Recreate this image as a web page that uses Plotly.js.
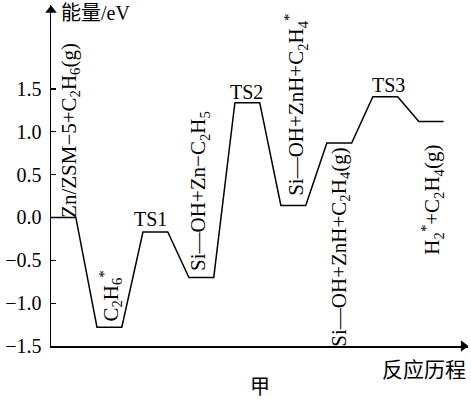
<!DOCTYPE html>
<html><head><meta charset="utf-8">
<script src="https://cdn.plot.ly/plotly-3.0.1.min.js"></script>
<style>html,body{margin:0;padding:0;background:#fff}#c{width:471px;height:401px}</style>
</head><body><div id="c"></div>
<script>
const energies = [0, -1.28, -0.17, -0.70, 1.34, 0.14, 0.87, 1.41, 1.12];
const stateLabels = [
  "Zn/ZSM−5+C<sub>2</sub>H<sub>6</sub>(g)",
  "C<sub>2</sub>H<sub>6</sub><sup>*</sup>",
  "TS1",
  "Si—OH+Zn−C<sub>2</sub>H<sub>5</sub>",
  "TS2",
  "Si—OH+ZnH+C<sub>2</sub>H<sub>4</sub><sup>*</sup>",
  "Si—OH+ZnH+C<sub>2</sub>H<sub>4</sub>(g)",
  "TS3",
  "H<sub>2</sub><sup>*</sup>+C<sub>2</sub>H<sub>4</sub>(g)"
];
const yTicks = [-1.5, -1.0, -0.5, 0.0, 0.5, 1.0, 1.5];
const yTickText = ["−1.5", "−1.0", "−0.5", "0.0", "0.5", "1.0", "1.5"];
const yTitle = "能量/eV";
const xTitle = "反应历程";
const caption = "甲";

// layout constants (not data)
const X_MAX = 9.07, Y_MIN = -1.5, Y_MAX = 2.48, LEVEL_W = 0.54;
// label centres in axis units and rotation
const labelPos = [
  [0.41, 1.02, -90], [1.29, -0.92, -90], [2.17, -0.02, 0],
  [3.22, 0.31, -90], [4.26, 1.47, 0], [5.32, 1.31, -90],
  [6.29, -0.35, -90], [7.33, 1.55, 0], [8.29, 0.21, -90]
];

const xs = [], ys = [];
energies.forEach((e, i) => { xs.push(i, i + LEVEL_W); ys.push(e, e); });

const serif = "Liberation Serif, Times New Roman, Times, serif";
const cjk = "Noto Sans CJK SC";
const anns = stateLabels.map((t, i) => ({
  x: labelPos[i][0], y: labelPos[i][1], xref: 'x', yref: 'y',
  text: t, showarrow: false, textangle: labelPos[i][2],
  xanchor: 'center', yanchor: 'middle',
  font: {family: serif, size: labelPos[i][2] === 0 ? 20 : 21, color: '#000'}
}));
anns.push({xref: 'paper', yref: 'paper', x: 0.02, y: 0.978, xanchor: 'left', yanchor: 'middle',
  text: yTitle, showarrow: false, font: {family: serif + ", " + cjk, size: 20, color: '#000'}});
anns.push({xref: 'paper', yref: 'paper', x: 1.0, y: -0.065, xanchor: 'right', yanchor: 'middle',
  text: xTitle, showarrow: false, font: {family: cjk, size: 21, color: '#000'}});
anns.push({xref: 'paper', yref: 'paper', x: 0.50, y: -0.117, xanchor: 'center', yanchor: 'middle',
  text: caption, showarrow: false, font: {family: cjk, size: 20, color: '#000'}});

const data = [
  {x: xs, y: ys, mode: 'lines', line: {color: '#000', width: 1.5}, hoverinfo: 'skip'},
  {x: [X_MAX - 0.1, 0], y: [Y_MIN, Y_MAX - 0.06], mode: 'markers', cliponaxis: false,
   marker: {symbol: ['triangle-right', 'triangle-up'], size: 10, color: '#000', line: {width: 0}}, hoverinfo: 'skip'}
];
const layout = {
  width: 471, height: 401,
  margin: {l: 51, r: 3, t: 5, b: 55},
  showlegend: false,
  paper_bgcolor: '#fff', plot_bgcolor: '#fff',
  font: {family: serif, color: '#000'},
  xaxis: {range: [0, X_MAX], showgrid: false, zeroline: false, showticklabels: false, ticks: '', showline: true, linecolor: '#000', linewidth: 1.5},
  yaxis: {range: [Y_MIN, Y_MAX], showgrid: false, zeroline: false, tickvals: yTicks, ticktext: yTickText, ticks: 'inside', ticklen: 5, tickwidth: 1.2, tickcolor: '#000', showline: true, linecolor: '#000', linewidth: 1.5, tickfont: {family: serif, size: 20, color: '#000'}, ticklabelstandoff: 4},
  annotations: anns
};
Plotly.newPlot('c', data, layout, {displayModeBar: false, staticPlot: true});
</script></body></html>
